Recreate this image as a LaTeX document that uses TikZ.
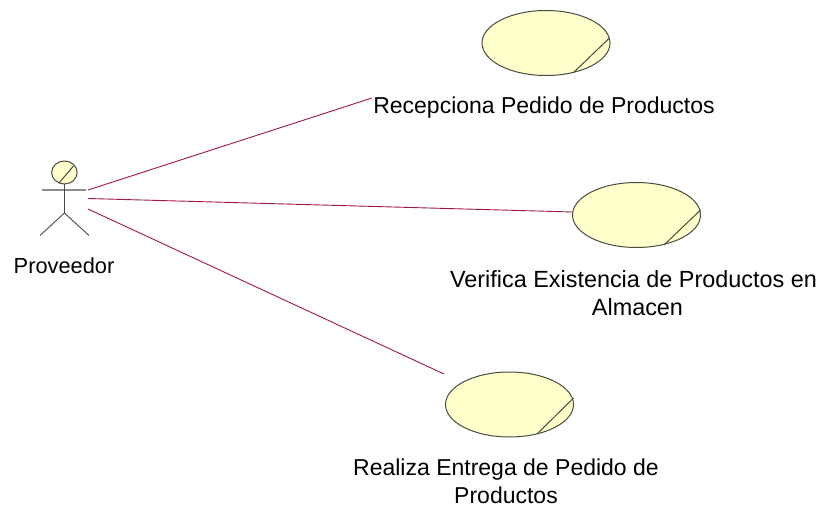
\documentclass[tikz,border=0pt]{standalone}
\usepackage{fontspec}
\setmainfont{Liberation Sans}
\definecolor{fillY}{HTML}{FFFFCC}
\definecolor{lineK}{HTML}{4A4A40}
\definecolor{assoc}{HTML}{A01848}
\tikzset{
  x=1pt,y=-1pt,
  usecase/.style={ellipse,draw=lineK,fill=fillY,line width=1pt,minimum width=128pt,minimum height=65pt,inner sep=0pt,outer sep=0pt},
  slash/.style={draw=lineK,line width=1pt},
  assocline/.style={draw=assoc,line width=0.9pt},
  label/.style={font=\fontsize{#1}{28}\selectfont,text=black,align=center,inner sep=0pt},
  label/.default=23,
  stick/.style={draw=lineK,line width=0.9pt},
}
\usetikzlibrary{shapes.geometric}
\begin{document}
\begin{tikzpicture}
\useasboundingbox (0,0) rectangle (820,508);
% use cases
\node[usecase] (uc1) at (546,43) {};
\node[usecase] (uc2) at (636.5,215) {};
\node[usecase] (uc3) at (509.5,404.5) {};
\coordinate (s1a) at (609.5,38); \coordinate (s1b) at (573,73);
\coordinate (s2a) at (700.5,210); \coordinate (s2b) at (664,245);
\coordinate (s3a) at (573.5,398); \coordinate (s3b) at (537,434);
\draw[slash] (s1a) -- (s1b);
\draw[slash] (s2a) -- (s2b);
\draw[slash] (s3a) -- (s3b);
% actor
\node[ellipse,draw=lineK,fill=fillY,line width=1pt,minimum width=25.5pt,minimum height=23pt,inner sep=0pt,outer sep=0pt] (head) at (64.4,172.5) {};
\coordinate (h1) at (73.5,166); \coordinate (h2) at (59,183);
\draw[slash] (h1) -- (h2);
\coordinate (armL) at (42,190); \coordinate (armR) at (86,190);
\draw[draw=gray!90,line width=1.3pt] (armL) -- (armR);
\coordinate (hip) at (64.4,213);
\coordinate (legL) at (40,235.5); \coordinate (legR) at (89,235.5);
\draw[stick] (head.south) -- (hip);
\draw[stick] (legL) -- (hip) -- (legR);
% connectors
\coordinate (a1) at (88,190); \coordinate (e1) at (372,98);
\coordinate (a2) at (88,198.5); \coordinate (e2) at (572,212);
\coordinate (a3) at (88,209); \coordinate (e3) at (444,374);
\draw[assocline] (a1) -- (e1);
\draw[assocline] (a2) -- (uc2.west |- e2);
\draw[assocline] (a3) -- (e3);
% labels
\node[label=21.8] (l0) at (64,265.5) {Proveedor};
\node[label] (l1) at (544,108) {Recepciona Pedido de Productos};
\node[label=23.4] (l2) at (633.5,293) {Verifica Existencia de Productos en\\\hspace*{8pt}Almacen};
\node[label] (l3) at (506,481.5) {Realiza Entrega de Pedido de\\Productos};
\end{tikzpicture}
\end{document}
